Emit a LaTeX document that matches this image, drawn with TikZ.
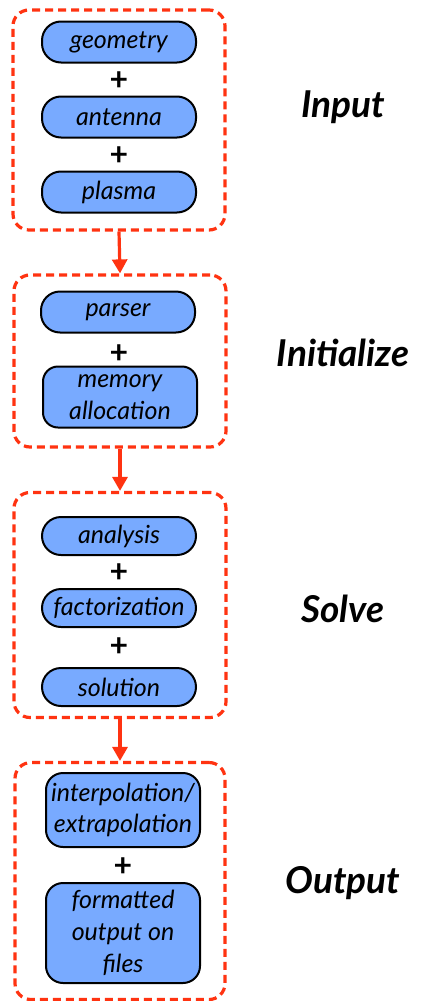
\documentclass[tikz,border=0pt]{standalone}
\usepackage{fontspec}
\setmainfont{Lato}
\usetikzlibrary{arrows.meta}
\definecolor{boxblue}{HTML}{78AAFF}
\definecolor{grpred}{HTML}{FF3311}
\tikzset{
  item/.style={draw=black, line width=2pt, fill=boxblue, rounded corners=19pt,
    minimum width=154pt, minimum height=41pt, inner sep=0pt, align=center,
    font=\fontsize{25}{31}\selectfont\itshape},
  group/.style={draw=grpred, line width=3.2pt, dash pattern=on 8pt off 5pt, rounded corners=16pt},
  plus/.style={font=\fontsize{32}{32}\selectfont\bfseries, inner sep=0pt, text height=20pt, text depth=0pt},
  label/.style={font=\fontsize{37}{40}\selectfont\bfseries\itshape, inner sep=0pt},
  flow/.style={draw=grpred, line width=3.2pt, -{Triangle[length=14pt,width=15pt]}}
}
\begin{document}
\begin{tikzpicture}[x=1pt,y=-1pt]
\useasboundingbox (0,0) rectangle (425,1001);
% groups
\node[group, minimum width=212pt, minimum height=220pt] (g1) at (119,120) {};
\node[group, minimum width=212pt, minimum height=172pt] (g2) at (120,361) {};
\node[group, minimum width=212pt, minimum height=225pt] (g3) at (120,605) {};
\node[group, minimum width=210pt, minimum height=237pt] (g4) at (120,881) {};
% group 1
\node[item] (geo) at (119,42) {geometry};
\node[plus] (p1) at (119,80) {+};
\node[item] (ant) at (119,117) {antenna};
\node[plus] (p2) at (119,155) {+};
\node[item] (pla) at (119,192) {plasma};
% group 2
\node[item] (par) at (118,312) {parser};
\node[plus] (p3) at (119,353) {+};
\node[item, rounded corners=15pt, minimum height=61pt, font=\fontsize{25}{32}\selectfont\itshape] (mem) at (120,397) {memory\\allocation};
% group 3
\node[item, minimum height=38pt] (ana) at (119,536) {analysis};
\node[plus] (p4) at (119,572) {+};
\node[item, minimum height=38pt] (fac) at (119,608) {factorization};
\node[plus] (p5) at (119,646) {+};
\node[item, minimum height=38pt] (sol) at (119,687) {solution};
% group 4
\node[item, rounded corners=17pt, minimum height=74pt, font=\fontsize{25}{31}\selectfont\itshape] (int) at (123,810) {interpolation/\\extrapolation};
\node[plus] (p6) at (123,866) {+};
\node[item, rounded corners=17pt, minimum height=100pt, font=\fontsize{25}{32}\selectfont\itshape] (fmt) at (123,933) {formatted\\output on\\files};
% labels
\node[label] (l1) at (343,107) {Input};
\node[label] (l2) at (343,353) {Initialize};
\node[label] (l3) at (343,609) {Solve};
\node[label] (l4) at (343,883) {Output};
% arrows
\draw[flow] (g1.south) -- (g2.north);
\draw[flow] (g2.south) -- (g3.north);
\draw[flow] (g3.south) -- (g4.north);
\end{tikzpicture}
\end{document}
